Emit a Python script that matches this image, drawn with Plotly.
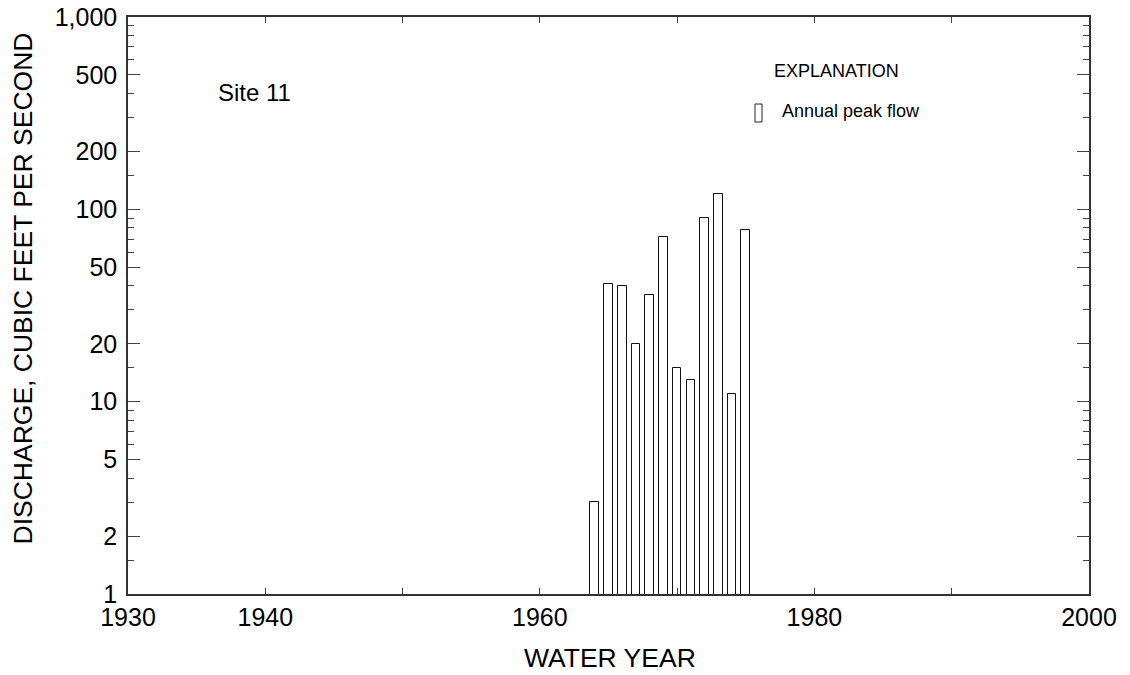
import plotly.graph_objects as go

# Data
years = [1964, 1965, 1966, 1967, 1968, 1969, 1970, 1971, 1972, 1973, 1974, 1975]
peak_flow = [3, 41, 40, 20, 36, 72, 15, 13, 90, 120, 11, 78]

y_major = [1, 2, 5, 10, 20, 50, 100, 200, 500, 1000]
y_major_text = ["1", "2", "5", "10", "20", "50", "100", "200", "500", "1,000"]
y_minor = [1.5, 3, 4, 6, 7, 8, 9, 15, 30, 40, 60, 70, 80, 90,
           150, 300, 400, 600, 700, 800, 900]
x_ticks = [1930, 1940, 1950, 1960, 1970, 1980, 1990, 2000]
x_tick_text = ["1930", "1940", "", "1960", "", "1980", "", "2000"]

FONT = "Arial, Liberation Sans, sans-serif"
L, R, T, B = 128, 41, 17, 81
W, H = 1130, 675
pw, ph = W - L - R, H - T - B

def px(x):
    return (x - L) / pw

def py(y):
    return (H - B - y) / ph

fig = go.Figure()
fig.add_trace(go.Bar(
    x=years, y=peak_flow, width=0.63,
    marker=dict(color="white", line=dict(color="#111111", width=1)),
    showlegend=False,
))

fig.update_layout(
    width=W, height=H,
    margin=dict(l=L, r=R, t=T, b=B),
    paper_bgcolor="white", plot_bgcolor="white",
    font=dict(family=FONT, color="black", size=25),
    xaxis=dict(
        range=[1930, 2000], tickmode="array", tickvals=x_ticks, ticktext=x_tick_text,
        ticks="inside", ticklen=6, tickcolor="#444", tickwidth=1,
        showline=True, linecolor="#333", linewidth=1.5, mirror="ticks",
        showgrid=False, zeroline=False, tickfont=dict(size=25), automargin=False,
    ),
    yaxis=dict(
        type="log", range=[0, 3], tickmode="array", tickvals=y_major, ticktext=y_major_text,
        ticks="inside", ticklen=12, tickcolor="#444", tickwidth=1,
        minor=dict(tickmode="array", tickvals=y_minor, ticks="inside", ticklen=6,
                   tickcolor="#444", tickwidth=1, showgrid=False),
        showline=True, linecolor="#333", linewidth=1.5, mirror="ticks",
        showgrid=False, zeroline=False, tickfont=dict(size=25),
        ticklabelstandoff=4, automargin=False,
    ),
    bargap=0,
)

annotations = [
    dict(text="DISCHARGE, CUBIC FEET PER SECOND", textangle=-90,
         x=px(22), y=py(288.5), xanchor="center", yanchor="middle",
         font=dict(size=26.5)),
    dict(text="WATER YEAR", x=px(609.5), y=py(658), xanchor="center", yanchor="middle",
         font=dict(size=26.5), borderpad=0),
    dict(text="Site 11", x=px(216), y=py(92), xanchor="left", yanchor="middle",
         font=dict(size=24)),
    dict(text="EXPLANATION", x=px(772), y=py(71), xanchor="left", yanchor="middle",
         font=dict(size=18)),
    dict(text="Annual peak flow", x=px(780), y=py(111), xanchor="left", yanchor="middle",
         font=dict(size=18)),
]
for a in annotations:
    a.update(xref="paper", yref="paper", showarrow=False)
fig.update_layout(annotations=annotations)

fig.add_shape(type="rect", xref="paper", yref="paper",
              x0=px(755), x1=px(762), y0=py(122), y1=py(104),
              line=dict(color="#222", width=1), fillcolor="white")

fig.write_html("out.html")
